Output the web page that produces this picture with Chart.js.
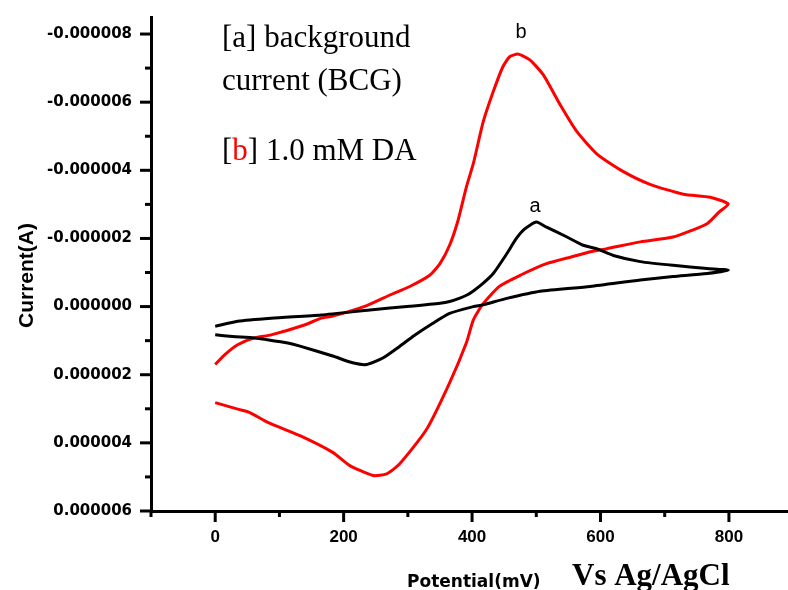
<!DOCTYPE html>
<html>
<head>
<meta charset="utf-8">
<script src="https://cdn.jsdelivr.net/npm/chart.js@4/dist/chart.umd.min.js"></script>
<style>
html,body{margin:0;padding:0;background:#fff;}
#wrap{width:788px;height:590px;position:relative;background:#fff;}
</style>
</head>
<body>
<div id="wrap"><canvas id="c" width="788" height="590"></canvas></div>
<script>
// ---- tick labels ----
const xTickLabels = [0, 200, 400, 600, 800];
const yTickLabels = [-0.000008, -0.000006, -0.000004, -0.000002, 0, 0.000002, 0.000004, 0.000006];

// ---- curve a: background current (potential in mV, current in A) ----
const aPotential = [0,35,87,165,241,303,350,365,381,392,402,417,433,454,469,482,500,516,547,573,594,620,662,713,766,799,
  766,713,662,584,506,454,417,402,365,339,310,287,261,236,214,183,132,113,80,61,27,0];
const aCurrent = [0.58e-6,0.43e-6,0.34e-6,0.245e-6,0.10e-6,-0.01e-6,-0.10e-6,-0.15e-6,-0.25e-6,-0.34e-6,-0.46e-6,-0.68e-6,-0.97e-6,-1.55e-6,-2.0e-6,-2.28e-6,-2.48e-6,-2.33e-6,-2.05e-6,-1.80e-6,-1.70e-6,-1.50e-6,-1.32e-6,-1.21e-6,-1.12e-6,-1.07e-6,
  -0.97e-6,-0.88e-6,-0.78e-6,-0.59e-6,-0.45e-6,-0.24e-6,-0.05e-6,0.0,0.20e-6,0.49e-6,0.85e-6,1.17e-6,1.51e-6,1.70e-6,1.65e-6,1.45e-6,1.16e-6,1.07e-6,0.97e-6,0.92e-6,0.875e-6,0.83e-6];

// ---- curve b: 1.0 mM DA ----
const bPotential = [0,15,35,61,87,139,165,183,236,272,303,334,350,365,378,391,402,417,433,448,459,472,490,511,537,563,595,635,677,729,771,799,
  785,766,740,713,662,610,584,557,516,475,443,417,402,391,365,329,287,267,246,209,183,132,82,54,35,0];
const bCurrent = [1.70e-6,1.41e-6,1.12e-6,0.92e-6,0.83e-6,0.54e-6,0.34e-6,0.28e-6,-0.03e-6,-0.34e-6,-0.59e-6,-0.92e-6,-1.26e-6,-1.80e-6,-2.52e-6,-3.50e-6,-4.20e-6,-5.40e-6,-6.31e-6,-7.04e-6,-7.34e-6,-7.41e-6,-7.24e-6,-6.80e-6,-5.93e-6,-5.14e-6,-4.47e-6,-3.97e-6,-3.59e-6,-3.30e-6,-3.21e-6,-3.01e-6,
  -2.78e-6,-2.43e-6,-2.22e-6,-2.04e-6,-1.90e-6,-1.70e-6,-1.61e-6,-1.47e-6,-1.26e-6,-0.92e-6,-0.60e-6,-0.08e-6,0.39e-6,1.07e-6,2.24e-6,3.61e-6,4.62e-6,4.91e-6,4.96e-6,4.66e-6,4.28e-6,3.79e-6,3.40e-6,3.11e-6,3.01e-6,2.82e-6];

const toPoints = (xs, ys) => xs.map((x, i) => ({ x: x, y: ys[i] }));

const decor = {
  id: 'decor',
  afterDraw(chart) {
    const ctx = chart.ctx, xs = chart.scales.x, ys = chart.scales.y, ca = chart.chartArea;
    ctx.save();
    // tick marks (major + minor)
    ctx.strokeStyle = '#000';
    ctx.lineWidth = 3;
    ctx.lineCap = 'butt';
    for (let k = -8; k <= 6; k++) {
      const y = ys.getPixelForValue(k * 1e-6);
      const len = (k % 2 === 0) ? 11 : 6;
      ctx.beginPath(); ctx.moveTo(ca.left - len, y); ctx.lineTo(ca.left, y); ctx.stroke();
    }
    for (let v = -100; v <= 800; v += 100) {
      const x = xs.getPixelForValue(v);
      const len = (v % 200 === 0) ? 11 : 6;
      ctx.beginPath(); ctx.moveTo(x, ca.bottom); ctx.lineTo(x, ca.bottom + len); ctx.stroke();
    }
    // annotation text
    ctx.fillStyle = '#000';
    ctx.textBaseline = 'alphabetic';
    ctx.textAlign = 'left';
    ctx.font = '31px "Liberation Serif"';
    ctx.fillText('[a] background', 222, 47);
    ctx.fillText('current (BCG)', 222, 90);
    let x = 222;
    ctx.fillText('[', x, 160); x += ctx.measureText('[').width;
    ctx.fillStyle = '#ff0000';
    ctx.fillText('b', x, 160); x += ctx.measureText('b').width;
    ctx.fillStyle = '#000';
    ctx.fillText('] 1.0 mM DA', x, 160);
    // curve labels
    ctx.font = '20px "Liberation Sans"';
    ctx.textAlign = 'center';
    ctx.fillText('b', 521, 38);
    ctx.fillText('a', 535, 212);
    // axis titles
    ctx.textAlign = 'left';
    ctx.font = 'bold 17px "DejaVu Sans"';
    ctx.fillText('Potential(mV)', 407, 587);
    ctx.font = 'bold 31px "Liberation Serif"';
    ctx.fillText('Vs Ag/AgCl', 572, 585);
    ctx.save();
    ctx.translate(33, 275.5);
    ctx.rotate(-Math.PI / 2);
    ctx.textAlign = 'center';
    ctx.font = 'bold 21px "Liberation Sans"';
    ctx.fillText('Current(A)', 0, 0);
    ctx.restore();
    ctx.restore();
  }
};

new Chart(document.getElementById('c'), {
  type: 'scatter',
  data: {
    datasets: [
      { label: 'a', data: toPoints(aPotential, aCurrent), showLine: true, borderColor: '#000000',
        backgroundColor: '#000000', borderWidth: 3, pointRadius: 0, tension: 0.2, fill: false },
      { label: 'b', data: toPoints(bPotential, bCurrent), showLine: true, borderColor: '#ff0000',
        backgroundColor: '#ff0000', borderWidth: 3, pointRadius: 0, tension: 0.2, fill: false }
    ]
  },
  options: {
    responsive: false,
    animation: false,
    devicePixelRatio: 1,
    layout: { padding: { top: 13, left: 0, right: 0, bottom: 0 } },
    plugins: { legend: { display: false }, tooltip: { enabled: false } },
    scales: {
      x: {
        type: 'linear', position: 'bottom', min: -100, max: 892,
        afterBuildTicks(s) { s.ticks = xTickLabels.map(v => ({ value: v })); },
        afterFit(s) { s.height = 79; },
        grid: { display: false, drawTicks: true, tickLength: 11 },
        border: { display: true, color: '#000', width: 3 },
        ticks: { autoSkip: false, maxRotation: 0, color: '#000', padding: 5,
          font: { family: 'Liberation Sans', size: 17, weight: 'bold' },
          callback: v => String(v) }
      },
      y: {
        type: 'linear', reverse: true, min: -8.5e-6, max: 6e-6,
        afterBuildTicks(s) { s.ticks = yTickLabels.map(v => ({ value: v })); },
        afterFit(s) { s.width = 151; },
        grid: { display: false, drawTicks: true, tickLength: 11 },
        border: { display: true, color: '#000', width: 3 },
        ticks: { autoSkip: false, color: '#000', padding: 8,
          font: { family: 'DejaVu Sans', size: 15, weight: 'bold' },
          callback: v => Number(v).toFixed(6) }
      }
    }
  },
  plugins: [decor]
});
</script>
</body>
</html>
